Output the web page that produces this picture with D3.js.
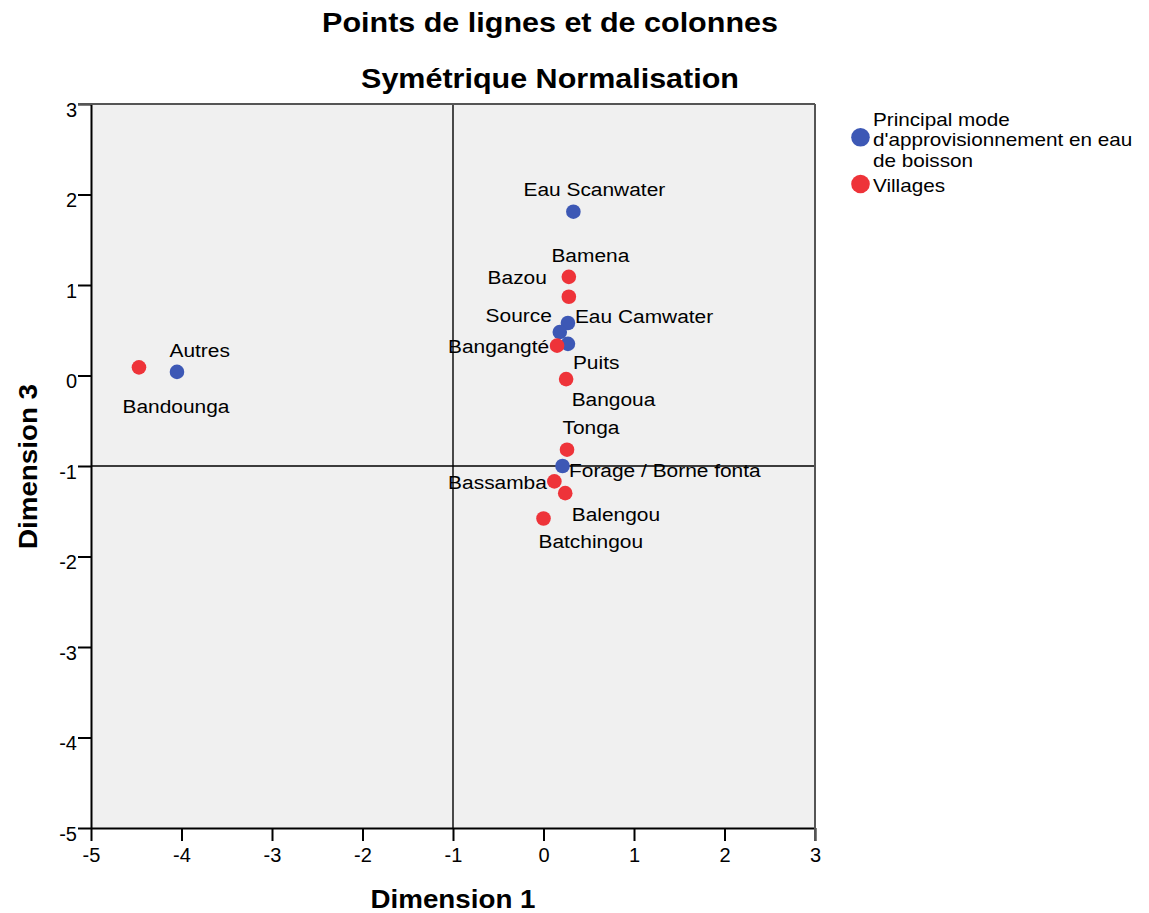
<!DOCTYPE html>
<meta charset="utf-8" />
<style>
  body { margin: 0; background: #fff; }
  text { font-family: "Liberation Sans", Arial, sans-serif; fill: #000; }
  .title { font-size: 28px; font-weight: bold; }
  .axis-title { font-size: 25px; font-weight: bold; }
  .tick text { font-size: 20px; }
  .lbl { font-size: 19px; }
  .legend text { font-size: 18px; }
</style>
<body>
<script src="https://d3js.org/d3.v7.min.js"></script>
<script>
  // row points: water supply modes (blue)
  var modeNames = ['Eau Scanwater', 'Eau Camwater', 'Source', 'Puits', 'Forage / Borne fonta', 'Autres'];
  var modeDim1 = [0.33, 0.27, 0.18, 0.27, 0.21, -4.05];
  var modeDim3 = [1.81, 0.58, 0.48, 0.35, -1.00, 0.04];

  // column points: villages (red)
  var villageNames = ['Bazou', 'Bamena', 'Bangangté', 'Bangoua', 'Tonga', 'Bassamba', 'Balengou', 'Batchingou', 'Bandounga'];
  var villageDim1 = [0.28, 0.28, 0.15, 0.25, 0.26, 0.12, 0.24, 0.00, -4.47];
  var villageDim3 = [1.09, 0.87, 0.33, -0.04, -0.82, -1.17, -1.30, -1.58, 0.09];

  var ticks = [-5, -4, -3, -2, -1, 0, 1, 2, 3];
  var legendLabels = ["Principal mode|d'approvisionnement en eau|de boisson", 'Villages'];

  // label placement: dx, baseline dy from the point, anchor
  var labelPos = {
    'Eau Scanwater': [21, -15.5, 'middle'],
    'Eau Camwater': [7, -0.5, 'start'],
    'Source': [-8, -10.5, 'end'],
    'Puits': [5, 25.5, 'start'],
    'Forage / Borne fonta': [6.5, 10.5, 'start'],
    'Autres': [-7.5, -14.5, 'start'],
    'Bazou': [-22, 7.5, 'end'],
    'Bamena': [21.5, -35, 'middle'],
    'Bangangté': [-8, 7.3, 'end'],
    'Bangoua': [5.5, 27, 'start'],
    'Tonga': [-4.5, -15.7, 'start'],
    'Bassamba': [-7.5, 7.3, 'end'],
    'Balengou': [6.5, 27.4, 'start'],
    'Batchingou': [-5, 29.4, 'start'],
    'Bandounga': [-16.5, 46, 'start']
  };

  var blue = '#3d58b5', red = '#ee3339';
  var SX = 1.1; // horizontal text stretch

  var svg = d3.select('body').append('svg').attr('width', 1149).attr('height', 913);

  function placeText(t, px, py, sx) {
    t.attr('transform', 'translate(' + px + ',' + py + ') scale(' + (sx || SX) + ',1)');
    return t;
  }

  var x = d3.scaleLinear().domain([-5, 3]).range([91, 815]);
  var y = d3.scaleLinear().domain([-5, 3]).range([828, 104]);

  svg.append('rect')
    .attr('x', x(-5)).attr('y', y(3))
    .attr('width', x(3) - x(-5)).attr('height', y(-5) - y(3))
    .attr('fill', '#f0f0f0');

  // reference lines
  svg.append('line').attr('x1', x(-1)).attr('x2', x(-1)).attr('y1', y(3)).attr('y2', y(-5))
    .attr('stroke', '#000').attr('stroke-width', 1.4);
  svg.append('line').attr('x1', x(-5)).attr('x2', x(3)).attr('y1', y(-1)).attr('y2', y(-1))
    .attr('stroke', '#000').attr('stroke-width', 1.4);

  var fmt = function (d) { return String(d); };
  var xAxis = svg.append('g').attr('transform', 'translate(0,' + y(-5) + ')')
    .call(d3.axisBottom(x).tickValues(ticks).tickSize(13).tickSizeOuter(0).tickPadding(7).tickFormat(fmt));
  var yAxis = svg.append('g').attr('transform', 'translate(' + x(-5) + ',0)')
    .call(d3.axisLeft(y).tickValues(ticks).tickSize(13).tickSizeOuter(0).tickPadding(1).tickFormat(fmt));
  [xAxis, yAxis].forEach(function (a) {
    a.select('.domain').attr('stroke', '#000').attr('stroke-width', 2);
    a.selectAll('.tick line').attr('stroke', '#000').attr('stroke-width', 2);
    a.selectAll('.tick text').attr('fill', '#000');
  });
  yAxis.selectAll('.tick text').attr('dy', '0.6em');
  // frame top and right
  svg.append('line').attr('x1', x(-5) - 13).attr('x2', x(3)).attr('y1', y(3)).attr('y2', y(3))
    .attr('stroke', '#555').attr('stroke-width', 2);
  svg.append('line').attr('x1', x(3)).attr('x2', x(3)).attr('y1', y(3)).attr('y2', y(-5) + 13)
    .attr('stroke', '#555').attr('stroke-width', 2);

  var pts = [];
  modeNames.forEach(function (n, i) { pts.push({ name: n, d1: modeDim1[i], d3: modeDim3[i], c: blue }); });
  villageNames.forEach(function (n, i) { pts.push({ name: n, d1: villageDim1[i], d3: villageDim3[i], c: red }); });

  svg.selectAll('circle.pt').data(pts).enter().append('circle')
    .attr('class', 'pt')
    .attr('cx', function (d) { return x(d.d1); })
    .attr('cy', function (d) { return y(d.d3); })
    .attr('r', 7.3)
    .attr('fill', function (d) { return d.c; });

  svg.selectAll('text.lbl').data(pts).enter().append('text')
    .attr('class', 'lbl')
    .attr('text-anchor', function (d) { return labelPos[d.name][2]; })
    .attr('transform', function (d) {
      return 'translate(' + (x(d.d1) + labelPos[d.name][0]) + ',' + (y(d.d3) + labelPos[d.name][1]) + ') scale(' + SX + ',1)';
    })
    .text(function (d) { return d.name; });

  placeText(svg.append('text').attr('class', 'title').attr('text-anchor', 'middle'), 550, 32, 1.09)
    .text('Points de lignes et de colonnes');
  placeText(svg.append('text').attr('class', 'title').attr('text-anchor', 'middle'), 550, 88, 1.09)
    .text('Symétrique Normalisation');

  placeText(svg.append('text').attr('class', 'axis-title').attr('text-anchor', 'middle'), x(-1), 907.5, 1.11)
    .text('Dimension 1');
  svg.append('text').attr('class', 'axis-title')
    .attr('transform', 'translate(36.5,' + (y(-1) + 0.5) + ') rotate(-90) scale(1.11,1)')
    .attr('text-anchor', 'middle').text('Dimension 3');

  // legend
  var lg = svg.append('g').attr('class', 'legend');
  var lgColors = [blue, red];
  var lgY = [137.3, 184];
  var lgBase = [126, 191.7];
  legendLabels.forEach(function (l, i) {
    lg.append('circle').attr('cx', 860.5).attr('cy', lgY[i]).attr('r', 9.3).attr('fill', lgColors[i]);
    l.split('|').forEach(function (s, j) {
      placeText(lg.append('text'), 873, lgBase[i] + j * 20.4, 1.15).text(s);
    });
  });
</script>
</body>
